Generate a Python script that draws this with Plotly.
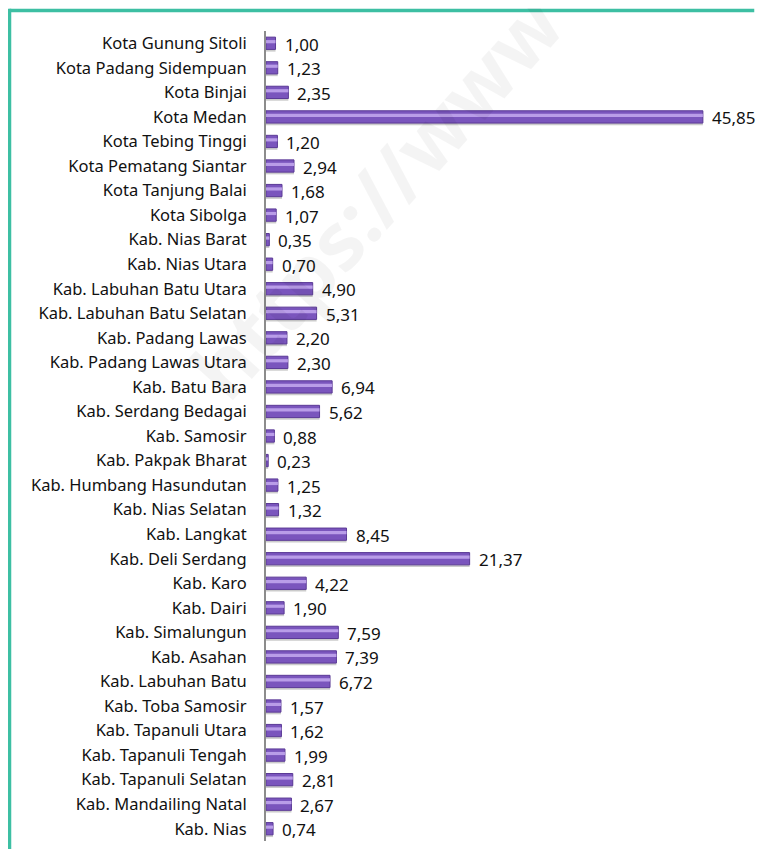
import plotly.graph_objects as go

# Data (top to bottom as in the chart)
wilayah = ["Kota Gunung Sitoli", "Kota Padang Sidempuan", "Kota Binjai", "Kota Medan",
           "Kota Tebing Tinggi", "Kota Pematang Siantar", "Kota Tanjung Balai", "Kota Sibolga",
           "Kab. Nias Barat", "Kab. Nias Utara", "Kab. Labuhan Batu Utara",
           "Kab. Labuhan Batu Selatan", "Kab. Padang Lawas", "Kab. Padang Lawas Utara",
           "Kab. Batu Bara", "Kab. Serdang Bedagai", "Kab. Samosir", "Kab. Pakpak Bharat",
           "Kab. Humbang Hasundutan", "Kab. Nias Selatan", "Kab. Langkat", "Kab. Deli Serdang",
           "Kab. Karo", "Kab. Dairi", "Kab. Simalungun", "Kab. Asahan", "Kab. Labuhan Batu",
           "Kab. Toba Samosir", "Kab. Tapanuli Utara", "Kab. Tapanuli Tengah",
           "Kab. Tapanuli Selatan", "Kab. Mandailing Natal", "Kab. Nias"]
nilai = [1.00, 1.23, 2.35, 45.85, 1.20, 2.94, 1.68, 1.07, 0.35, 0.70, 4.90, 5.31, 2.20, 2.30,
         6.94, 5.62, 0.88, 0.23, 1.25, 1.32, 8.45, 21.37, 4.22, 1.90, 7.59, 7.39, 6.72, 1.57,
         1.62, 1.99, 2.81, 2.67, 0.74]

# plotly draws categories bottom-up, so reverse
y = wilayah[::-1]
x = nilai[::-1]

fig = go.Figure()

# shadow
fig.add_trace(go.Bar(x=x, y=y, orientation="h", width=0.56, offset=-0.34,
                     marker=dict(color="rgba(140,140,140,0.45)", line=dict(width=0)),
                     hoverinfo="skip"))
# main bar
fig.add_trace(go.Bar(x=x, y=y, orientation="h", width=0.5, offset=-0.25,
                     marker=dict(color="#7A55BD", line=dict(color="#5B3A96", width=1))))
# highlight stripe
fig.add_trace(go.Bar(x=x, y=y, orientation="h", width=0.13, offset=0.0,
                     marker=dict(color="rgba(196,170,240,0.85)", line=dict(width=0)),
                     hoverinfo="skip"))

# value labels with comma decimals
for xv, yv in zip(x, y):
    fig.add_annotation(x=xv, y=yv, text=f"{xv:.2f}".replace(".", ","), showarrow=False,
                       xanchor="left", xshift=7, yshift=-1,
                       font=dict(family="Noto Sans", size=17, color="#111111"))

# faint watermark
fig.add_annotation(x=0.234, y=0.797, xref="paper", yref="paper", text="<b>https://www</b>",
                   showarrow=False, textangle=-48, xanchor="center", yanchor="middle",
                   font=dict(family="Noto Sans", size=80, color="rgba(0,0,0,0.045)"))

# teal frame (top and left edges only)
fig.add_shape(type="line", xref="paper", yref="paper", x0=-0.5516, x1=1.05, y0=1.0253, y1=1.0253,
              line=dict(color="#3DBFA3", width=3.5), layer="below")
fig.add_shape(type="line", xref="paper", yref="paper", x0=-0.5516, x1=-0.5516, y0=-0.1, y1=1.0275,
              line=dict(color="#3DBFA3", width=3.5), layer="below")

# page adds an 8px body margin, so the figure is sized to fit the window without scrolling
fig.update_layout(
    width=749, height=841,
    margin=dict(l=258, r=26, t=23, b=8),
    paper_bgcolor="white", plot_bgcolor="white",
    barmode="overlay", showlegend=False,
    font=dict(family="Noto Sans", size=16.5, color="#111111"),
    xaxis=dict(range=[0, 48.8], visible=False, fixedrange=True),
    yaxis=dict(showline=True, linecolor="#8c8c8c", linewidth=2, ticks="",
               ticklabelstandoff=14, showgrid=False, range=[-0.5, 32.5]),
)

fig.write_html("out.html")
